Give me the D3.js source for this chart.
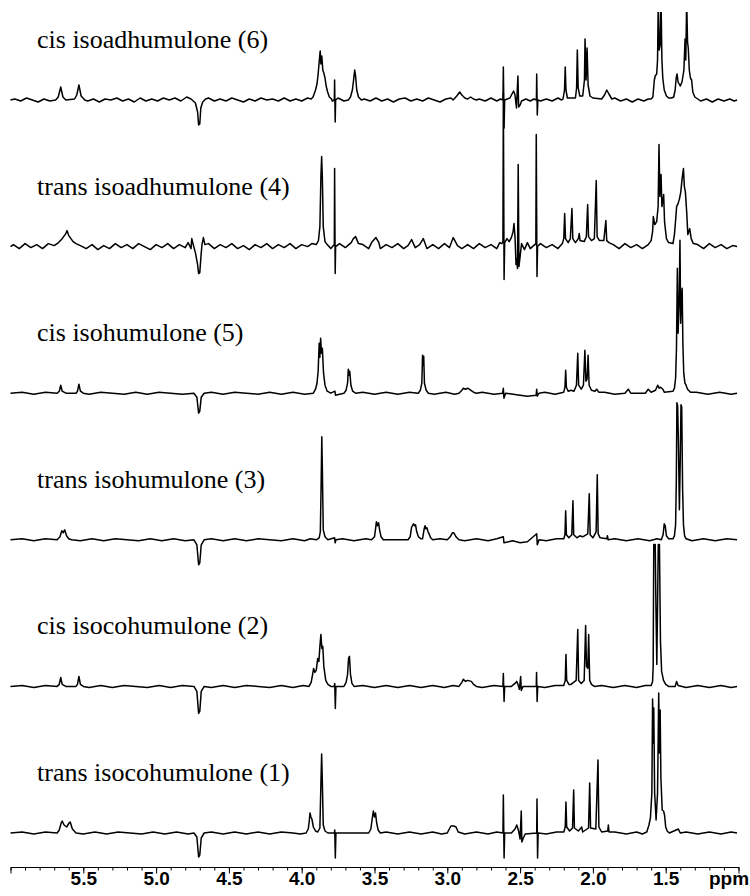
<!DOCTYPE html>
<html>
<head>
<meta charset="utf-8">
<script src="https://cdn.jsdelivr.net/npm/d3@7"></script>
<style>
  body { margin: 0; background: #fff; }
  .trace { fill: none; stroke: #000; stroke-width: 1.5; stroke-linejoin: round; }
  .label { font-family: "Liberation Serif", "Times New Roman", serif; font-size: 26px; fill: #000; }
  .axis text { font-family: "Liberation Sans", Arial, sans-serif; font-size: 19px; font-weight: bold; }
</style>
</head>
<body>
<div id="chart"></div>
<script>
// compound names, top to bottom
var labels = ["cis isoadhumulone (6)", "trans isoadhumulone (4)", "cis isohumulone (5)",
              "trans isohumulone (3)", "cis isocohumulone (2)", "trans isocohumulone (1)"];

var ticks = [5.5, 5.0, 4.5, 4.0, 3.5, 3.0, 2.5, 2.0, 1.5];
var unit = "ppm";

// [ppm, intensity]
var spec1 = [[6.0,0],[5.69,0],[5.672,3],[5.655,13],[5.64,3],[5.62,0],[5.56,1],[5.545,5],[5.53,15],[5.515,4],[5.49,0],
  [4.76,1],[4.73,-3],[4.715,-12],[4.708,-25],[4.700,-24],[4.693,-8],[4.68,-2],[4.66,1],
  [3.935,1],[3.922,3],[3.905,10],[3.895,16],[3.887,26],[3.880,38],[3.873,49],[3.868,36],[3.862,44],[3.855,30],[3.848,27],[3.840,22],[3.832,14],[3.822,8],[3.81,3],[3.795,1],
  [3.776,0],[3.774,20],[3.770,-22],[3.767,0],
  [3.68,0],[3.665,3],[3.652,10],[3.642,22],[3.636,30],[3.630,24],[3.622,10],[3.610,3],[3.59,0],
  [2.96,0],[2.935,4],[2.915,8],[2.90,5],[2.88,2],[2.86,1],[2.84,3],[2.82,1],[2.80,0],
  [2.618,0],[2.615,33],[2.610,-28],[2.606,0],
  [2.57,2],[2.545,9],[2.535,5],[2.525,-8],[2.515,24],[2.510,-7],[2.50,-5],[2.49,-1],
  [2.388,0],[2.386,26],[2.382,-15],[2.378,0],
  [2.205,1],[2.195,10],[2.19,33],[2.185,10],[2.175,2],
  [2.12,2],[2.112,12],[2.107,50],[2.101,12],[2.09,4],
  [2.07,4],[2.058,20],[2.054,61],[2.047,20],[2.040,52],[2.033,15],[2.02,4],[2.00,2],
  [1.94,1],[1.92,5],[1.905,10],[1.89,6],[1.87,1],
  [1.60,1],[1.588,3],[1.578,20],[1.572,24],[1.562,26],[1.556,40],[1.551,100],[1.545,50],[1.538,55],[1.532,100],[1.526,40],[1.520,22],[1.510,10],[1.495,4],[1.48,2],[1.46,2],
  [1.445,3],[1.435,10],[1.428,22],[1.422,26],[1.415,18],[1.400,14],[1.388,18],[1.375,30],[1.367,61],[1.362,40],[1.356,100],[1.350,58],[1.345,52],[1.338,30],[1.330,22],[1.322,20],[1.314,8],[1.30,3],[1.28,1],[1.01,0]];
var noise1 = [[5.97,1],[5.93,-1],[5.89,2],[5.85,0],[5.81,-2],[5.77,1],[5.73,-1],
  [5.47,-1],[5.43,1],[5.39,-2],[5.35,1],[5.31,0],[5.27,2],[5.23,-1],[5.19,1],[5.15,-2],[5.11,2],[5.07,-1],[5.03,1],[4.99,-1],[4.95,2],[4.91,0],[4.87,2],[4.83,-1],[4.79,3],
  [4.64,2],[4.60,-1],[4.56,1],[4.52,-1],[4.48,2],[4.44,0],[4.40,-2],[4.36,1],[4.32,-1],[4.28,2],[4.24,0],[4.20,1],[4.16,-1],[4.12,2],[4.08,-1],[4.04,1],[4.00,-1],[3.96,2],
  [3.79,-1],[3.75,2],[3.71,-1],
  [3.57,1],[3.53,-1],[3.49,2],[3.45,-1],[3.41,1],[3.37,-2],[3.33,1],[3.29,2],[3.25,-1],[3.21,1],[3.17,-1],[3.13,2],[3.09,0],[3.05,-2],[3.01,1],[2.975,2],
  [2.78,1],[2.74,-1],[2.70,2],[2.66,-1],[2.635,1],[2.46,1],[2.43,-1],[2.405,1],
  [2.36,-1],[2.32,1],[2.28,-1],[2.24,2],[2.215,0],
  [1.85,2],[1.81,-1],[1.77,1],[1.73,-2],[1.69,1],[1.65,-1],[1.62,1],
  [1.26,-1],[1.22,1],[1.18,-2],[1.14,1],[1.10,-1],[1.06,1],[1.03,-1]];

var spec2 = [[6.0,0],[5.70,1],[5.67,4],[5.65,7],[5.635,10],[5.62,13],[5.612,16],[5.60,11],[5.585,8],[5.57,5],[5.55,3],[5.52,1],
  [4.78,4],[4.76,-2],[4.755,8],[4.745,2],[4.73,-6],[4.715,-18],[4.708,-27],[4.700,-26],[4.692,-10],[4.685,2],[4.675,9],[4.665,2],
  [3.90,2],[3.885,6],[3.875,20],[3.868,70],[3.863,90],[3.858,68],[3.852,20],[3.84,5],[3.825,2],
  [3.776,2],[3.774,78],[3.770,-27],[3.767,0],
  [3.66,4],[3.645,8],[3.63,10],[3.61,3],[3.49,9],[3.47,4],
  [2.625,3],[2.618,5],[2.615,153],[2.610,-33],[2.606,4],
  [2.59,8],[2.575,5],[2.56,9],[2.548,15],[2.542,23],[2.535,10],[2.528,-18],[2.522,-12],[2.518,-22],[2.513,82],[2.508,-20],[2.50,-10],[2.49,3],[2.47,-3],[2.45,4],
  [2.392,2],[2.389,112],[2.384,-30],[2.380,0],
  [2.21,3],[2.20,8],[2.194,33],[2.188,8],[2.17,4],[2.155,8],[2.144,38],[2.138,8],[2.12,4],[2.10,8],[2.094,13],[2.088,6],[2.06,5],[2.045,10],[2.036,42],[2.030,10],[2.01,6],[1.99,8],[1.977,66],[1.971,10],[1.955,6],[1.925,6],[1.911,26],[1.905,6],[1.89,4],
  [1.62,2],[1.60,6],[1.59,15],[1.585,30],[1.575,22],[1.562,25],[1.552,40],[1.546,102],[1.540,50],[1.532,72],[1.526,40],[1.514,52],[1.508,25],[1.495,8],[1.48,4],
  [1.45,3],[1.44,12],[1.43,30],[1.425,40],[1.415,43],[1.405,48],[1.396,55],[1.388,67],[1.378,78],[1.372,60],[1.365,55],[1.356,35],[1.348,12],[1.335,18],[1.325,8],[1.31,3],[1.01,0]];
var noise2 = [[5.98,2],[5.94,-2],[5.90,3],[5.86,-1],[5.82,2],[5.78,-2],[5.74,3],
  [5.48,-2],[5.44,2],[5.40,-3],[5.36,1],[5.32,-2],[5.28,3],[5.24,-1],[5.20,2],[5.16,-2],[5.12,3],[5.08,0],[5.04,-3],[5.00,2],[4.96,-1],[4.92,3],[4.88,-2],[4.84,2],[4.80,-1],
  [4.64,3],[4.60,-2],[4.56,2],[4.52,-1],[4.48,3],[4.44,-2],[4.40,1],[4.36,-3],[4.32,2],[4.28,-1],[4.24,3],[4.20,-2],[4.16,2],[4.12,-1],[4.08,3],[4.04,-2],[4.00,2],[3.96,0],[3.93,3],
  [3.80,-2],[3.74,3],[3.70,-1],
  [3.58,2],[3.54,-2],[3.52,4],[3.46,-2],[3.42,2],[3.38,-1],[3.34,3],[3.30,-2],[3.27,1],[3.245,7],[3.22,-1],[3.19,2],[3.165,8],[3.14,-2],[3.10,2],[3.06,-2],[3.02,3],[2.985,-1],[2.959,9],[2.93,1],[2.90,-2],[2.86,2],[2.82,-2],[2.78,3],[2.74,-1],[2.70,2],[2.66,-2],[2.64,4],
  [2.43,-2],[2.40,2],[2.36,3],[2.32,-1],[2.28,2],[2.24,-2],
  [1.86,2],[1.82,-2],[1.78,3],[1.74,-1],[1.70,2],[1.66,-2],
  [1.28,2],[1.24,-2],[1.20,3],[1.16,-1],[1.12,2],[1.08,-2],[1.04,1]];

var spec3 = [[6.0,0],[5.68,0],[5.665,2],[5.655,8],[5.645,2],[5.62,0],[5.55,0],[5.54,2],[5.53,9],[5.52,2],[5.50,0],
  [4.74,0],[4.72,-4],[4.708,-20],[4.700,-18],[4.69,-4],[4.67,0],
  [3.92,0],[3.905,4],[3.895,10],[3.887,22],[3.880,50],[3.875,36],[3.870,55],[3.864,40],[3.858,45],[3.850,20],[3.840,8],[3.825,2],[3.80,0],
  [3.772,2],[3.768,-2],
  [3.71,0],[3.695,3],[3.685,10],[3.680,24],[3.675,18],[3.670,22],[3.662,8],[3.65,2],[3.63,0],
  [3.20,0],[3.185,3],[3.175,10],[3.170,38],[3.166,28],[3.162,37],[3.157,10],[3.145,3],[3.13,0],
  [2.92,0],[2.90,3],[2.89,5],[2.875,4],[2.86,5],[2.84,3],[2.82,1],[2.80,0],
  [2.62,0],[2.615,5],[2.611,-5],[2.60,0],[2.50,-2],[2.45,-3],[2.39,-2],[2.386,4],[2.382,-3],[2.37,0],
  [2.20,1],[2.192,6],[2.187,23],[2.182,6],[2.17,2],[2.15,3],[2.13,2],[2.113,8],[2.104,40],[2.098,8],[2.08,4],[2.065,8],[2.055,43],[2.048,12],[2.040,14],[2.033,38],[2.026,8],[2.01,3],[1.985,2],[1.974,4],[1.96,1],
  [1.78,0],[1.757,4],[1.74,0],[1.64,0],[1.62,4],[1.60,1],[1.57,3],[1.555,8],[1.545,5],[1.535,6],[1.52,4],[1.51,1],
  [1.45,2],[1.44,5],[1.432,15],[1.426,45],[1.420,125],[1.415,60],[1.408,90],[1.402,153],[1.397,70],[1.392,95],[1.387,105],[1.382,50],[1.376,20],[1.368,10],[1.36,8],[1.35,4],[1.33,1],[1.01,0]];
var noise3 = [[5.92,1],[5.84,-1],[5.76,1],[5.46,-1],[5.38,1],[5.30,0],[5.22,-1],[5.14,1],[5.06,-1],[4.98,1],[4.90,0],[4.82,-1],
  [4.62,1],[4.54,-1],[4.46,1],[4.38,0],[4.30,-1],[4.22,1],[4.14,-1],[4.06,1],[3.98,-1],
  [3.58,1],[3.50,-1],[3.42,1],[3.34,-1],[3.26,1],[3.09,-1],[3.01,1],[2.95,-1],[2.76,1],[2.68,-1],
  [2.33,1],[2.26,-1],[1.92,1],[1.85,-1],[1.29,1],[1.21,-1],[1.13,1],[1.05,-1]];

var spec4 = [[6.0,0],[5.68,0],[5.66,3],[5.648,9],[5.638,7],[5.628,10],[5.615,4],[5.60,1],[5.58,0],
  [4.74,0],[4.72,-5],[4.708,-25],[4.700,-23],[4.69,-5],[4.67,0],
  [3.90,0],[3.88,2],[3.872,8],[3.866,60],[3.862,103],[3.858,70],[3.852,10],[3.84,3],[3.82,0],
  [3.774,2],[3.770,-3],[3.765,0],
  [3.52,0],[3.50,3],[3.492,12],[3.487,18],[3.480,14],[3.472,17],[3.465,10],[3.455,3],[3.44,0],
  [3.27,0],[3.255,3],[3.246,12],[3.240,14],[3.232,16],[3.225,14],[3.218,15],[3.210,8],[3.198,3],[3.18,1],
  [3.17,1],[3.160,10],[3.153,14],[3.147,11],[3.140,12],[3.132,8],[3.125,6],[3.115,2],[3.10,0],
  [3.00,0],[2.98,3],[2.965,7],[2.955,7],[2.94,3],[2.92,0],
  [2.615,3],[2.611,-3],[2.55,-1],[2.50,-3],[2.45,-2],[2.386,6],[2.382,-5],[2.37,0],
  [2.20,1],[2.192,5],[2.187,29],[2.182,5],[2.165,2],[2.145,5],[2.137,39],[2.132,5],[2.11,2],[2.09,4],[2.07,3],[2.035,6],[2.025,46],[2.019,5],[2.00,2],[1.978,8],[1.970,65],[1.964,6],[1.95,2],[1.905,1],[1.900,4],[1.895,0],
  [1.53,0],[1.518,5],[1.510,16],[1.503,14],[1.495,4],[1.48,1],
  [1.45,1],[1.44,4],[1.432,15],[1.427,60],[1.423,137],[1.418,134],[1.413,100],[1.406,30],[1.400,80],[1.395,135],[1.390,133],[1.384,52],[1.378,15],[1.37,4],[1.36,1],[1.01,0]];
var noise4 = [[5.92,1],[5.84,-1],[5.76,1],[5.52,-1],[5.44,1],[5.36,-1],[5.28,1],[5.20,0],[5.12,-1],[5.04,1],[4.96,-1],[4.88,1],[4.80,-1],
  [4.62,1],[4.54,-1],[4.46,1],[4.38,-1],[4.30,1],[4.22,0],[4.14,-1],[4.06,1],[3.98,-1],[3.94,1],
  [3.72,1],[3.64,-1],[3.56,1],[3.05,1],[2.88,-1],[2.80,1],[2.72,-1],[2.66,1],[2.32,-1],[2.25,1],
  [1.85,1],[1.77,-1],[1.69,1],[1.61,-1],[1.56,1],[1.32,-1],[1.24,1],[1.16,-1],[1.08,1]];

var spec5 = [[6.0,0],[5.68,0],[5.665,2],[5.655,9],[5.645,2],[5.62,0],[5.55,0],[5.54,2],[5.53,10],[5.52,2],[5.50,0],
  [4.74,0],[4.72,-5],[4.708,-27],[4.700,-25],[4.69,-5],[4.67,0],
  [3.95,0],[3.935,4],[3.925,12],[3.918,18],[3.910,14],[3.900,16],[3.890,28],[3.882,25],[3.875,40],[3.868,52],[3.862,38],[3.855,40],[3.848,20],[3.835,6],[3.82,2],[3.80,0],
  [3.776,0],[3.773,3],[3.769,-22],[3.765,0],
  [3.71,0],[3.695,4],[3.685,12],[3.678,28],[3.672,30],[3.665,12],[3.655,3],[3.64,0],
  [2.92,0],[2.90,4],[2.89,7],[2.875,5],[2.86,6],[2.835,5],[2.82,2],[2.80,0],
  [2.618,0],[2.615,13],[2.610,-15],[2.606,0],[2.56,0],[2.535,3],[2.523,5],[2.515,2],[2.505,-3],[2.496,10],[2.492,-4],[2.48,0],
  [2.389,0],[2.387,14],[2.383,-15],[2.379,0],
  [2.20,1],[2.19,6],[2.185,32],[2.180,6],[2.165,2],[2.15,2],[2.115,6],[2.104,57],[2.098,6],[2.08,3],[2.06,6],[2.050,61],[2.044,20],[2.035,18],[2.029,52],[2.022,6],[2.01,2],[1.99,0],
  [1.60,1],[1.59,5],[1.586,20],[1.582,142],[1.572,142],[1.567,80],[1.561,22],[1.556,80],[1.551,142],[1.543,142],[1.536,45],[1.528,15],[1.515,6],[1.50,2],[1.48,0],
  [1.435,0],[1.425,5],[1.415,1],[1.01,0]];
var noise5 = [[5.92,1],[5.84,-1],[5.76,1],[5.46,-1],[5.38,1],[5.30,-1],[5.22,1],[5.14,0],[5.06,-1],[4.98,1],[4.90,-1],[4.82,1],
  [4.62,-1],[4.54,1],[4.46,-1],[4.38,1],[4.30,0],[4.22,-1],[4.14,1],[4.06,-1],[3.99,1],
  [3.58,1],[3.50,-1],[3.42,1],[3.34,-1],[3.26,1],[3.18,-1],[3.10,1],[3.02,-1],[2.96,1],[2.76,-1],[2.68,1],
  [2.33,-1],[2.26,1],[1.94,1],[1.86,-1],[1.78,1],[1.70,-1],[1.64,1],[1.36,-1],[1.28,1],[1.20,-1],[1.12,1],[1.05,-1]];

var spec6 = [[6.0,0],[5.68,0],[5.665,3],[5.652,10],[5.645,12],[5.632,8],[5.614,6],[5.598,10],[5.590,11],[5.575,4],[5.55,0],
  [4.74,0],[4.72,-4],[4.708,-24],[4.700,-22],[4.69,-5],[4.67,0],
  [3.97,0],[3.955,4],[3.948,12],[3.943,20],[3.937,16],[3.930,14],[3.920,6],[3.905,2],[3.89,1],[3.875,5],[3.868,50],[3.863,79],[3.858,50],[3.852,8],[3.84,2],[3.82,0],
  [3.776,0],[3.773,3],[3.769,-25],[3.765,0],
  [3.54,0],[3.525,4],[3.515,15],[3.508,22],[3.500,16],[3.493,20],[3.485,10],[3.475,3],[3.46,0],
  [3.00,0],[2.99,3],[2.975,7],[2.955,7],[2.94,6],[2.925,1],
  [2.618,0],[2.615,38],[2.610,-25],[2.606,0],[2.56,0],[2.535,4],[2.523,8],[2.51,2],[2.50,-6],[2.492,22],[2.488,-9],[2.478,-5],[2.465,-1],
  [2.386,0],[2.384,34],[2.380,-25],[2.376,0],
  [2.20,1],[2.19,6],[2.185,31],[2.180,6],[2.16,2],[2.14,5],[2.132,43],[2.127,5],[2.10,2],[2.077,6],[2.07,1],[2.03,5],[2.022,50],[2.016,5],[1.98,4],[1.965,73],[1.959,6],[1.94,1],[1.898,2],[1.894,8],[1.889,1],
  [1.63,1],[1.615,8],[1.605,15],[1.595,40],[1.590,134],[1.586,90],[1.582,125],[1.576,40],[1.566,13],[1.556,40],[1.548,140],[1.543,80],[1.538,123],[1.533,55],[1.524,23],[1.515,22],[1.508,18],[1.50,6],[1.49,2],[1.475,0],
  [1.413,4],[1.40,0],[1.01,0]];
var noise6 = [[5.92,1],[5.84,-1],[5.76,1],[5.50,-1],[5.42,1],[5.34,-1],[5.26,1],[5.18,0],[5.10,-1],[5.02,1],[4.94,-1],[4.86,1],[4.78,-1],
  [4.62,1],[4.54,-1],[4.46,1],[4.38,-1],[4.30,1],[4.22,-1],[4.14,1],[4.06,0],[4.01,-1],
  [3.42,1],[3.34,-1],[3.26,1],[3.18,-1],[3.10,1],[3.04,-1],[2.88,-1],[2.80,1],[2.72,-1],[2.66,1],[2.32,-1],[2.25,1],
  [1.85,1],[1.77,-1],[1.70,1],[1.66,-1],[1.36,1],[1.28,-1],[1.20,1],[1.12,-1],[1.05,1]];

var spectra = [spec1.concat(noise1), spec2.concat(noise2), spec3.concat(noise3),
               spec4.concat(noise4), spec5.concat(noise5), spec6.concat(noise6)];

var width = 750, height = 896;
var svg = d3.select("#chart").append("svg")
    .attr("width", width)
    .attr("height", height);

svg.append("defs").append("clipPath").attr("id", "clip")
  .append("rect").attr("x", 0).attr("y", 12).attr("width", width).attr("height", height - 12);

// ppm runs right to left
var x = d3.scaleLinear().domain([6.0, 1.0]).range([10.5, 738.5]);

var plot = svg.append("g").attr("clip-path", "url(#clip)");

spectra.forEach(function(s, i) {
  var base = 100 + i * 146.6;
  var y = d3.scaleLinear().domain([0, 100]).range([base, base - 100]);
  var pts = s.slice().sort(function(a, b) { return b[0] - a[0]; });
  var line = d3.line().x(function(d) { return x(d[0]); }).y(function(d) { return y(d[1]); });
  plot.append("path").attr("class", "trace").attr("d", line(pts));

  svg.append("text").attr("class", "label")
    .attr("x", 37).attr("y", base - 52)
    .text(labels[i]);
});

// axis
var axisY = 867;
var minor = svg.append("g").attr("class", "axis").attr("transform", "translate(0," + axisY + ")")
  .call(d3.axisBottom(x).ticks(50).tickSize(3.5).tickSizeOuter(0).tickFormat(""));
minor.select(".domain").remove();

var major = svg.append("g").attr("class", "axis").attr("transform", "translate(0," + axisY + ")")
  .call(d3.axisBottom(x).tickValues(ticks).tickSize(6.5).tickSizeOuter(6.5).tickFormat(d3.format(".1f")));
major.selectAll("text").attr("dy", null).attr("y", 18);
major.selectAll("path, line").attr("stroke", "#000");
minor.selectAll("line").attr("stroke", "#000");

svg.append("text").attr("class", "axis")
  .attr("x", 709).attr("y", 885)
  .style("font-family", "'Liberation Sans', Arial, sans-serif")
  .style("font-size", "19px").style("font-weight", "bold")
  .text(unit);
</script>
</body>
</html>
